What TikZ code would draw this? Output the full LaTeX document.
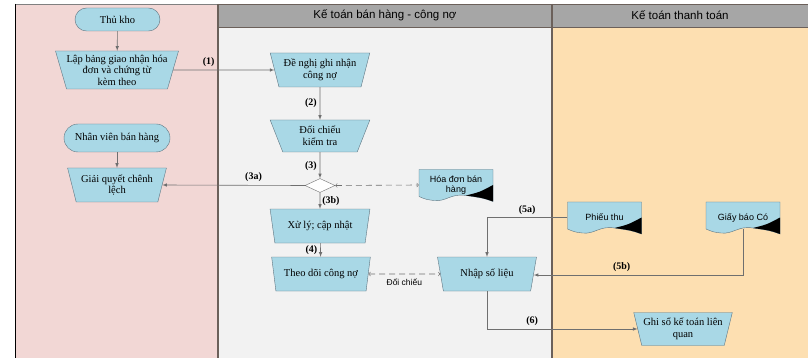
\documentclass[tikz,border=0pt]{standalone}
\usepackage{fontspec}
\setmainfont{Liberation Serif}
\setsansfont{Liberation Sans}
\usetikzlibrary{shapes.geometric}
\definecolor{lanepink}{HTML}{F2D7D5}
\definecolor{lanegray}{HTML}{F2F2F2}
\definecolor{lanepeach}{HTML}{FDDFB1}
\definecolor{headgray}{HTML}{A6A6A6}
\definecolor{boxblue}{HTML}{A9D8E6}
\definecolor{boxline}{HTML}{5E7480}
\definecolor{flowgray}{HTML}{6F6F6F}
\definecolor{laneline}{HTML}{6B605A}
% document symbol: wavy bottom with a dark corner
\newcommand{\docnode}[3]{%
  \begin{scope}[shift={(#2)}]
    \filldraw[draw=boxline, fill=boxblue] (-37,15.5) -- (37,15.5) -- (37,-16.5)
      .. controls (27,-13) .. (10,-10.5)
      .. controls (-5,-8) and (-10,-17) .. (-22,-15.5)
      .. controls (-30,-14.5) .. (-37,-11.5) -- cycle;
    \fill[black] (10,-10.5) .. controls (24,-7) .. (37,0) -- (37,-16.5)
      .. controls (27,-13) .. (10,-10.5) -- cycle;
  \end{scope}
  \node[doc] (#1) at (#2) {#3};}
\begin{document}
\begin{tikzpicture}[x=1pt,y=1pt]
\tikzstyle{every node}+=[inner sep=0pt]
\tikzstyle{proc}=[draw=boxline, fill=boxblue, trapezium, trapezium left angle=70, trapezium right angle=70, shape border rotate=180, trapezium stretches=true, minimum width=99pt, minimum height=34pt, align=center, font=\fontsize{10.5}{11.5}\selectfont]
\tikzstyle{term}=[draw=boxline, fill=boxblue, rectangle, align=center, font=\fontsize{10.5}{11.5}\selectfont]
\tikzstyle{doc}=[minimum width=74pt, minimum height=31pt, align=center, font=\sffamily\fontsize{9}{10}\selectfont]
\tikzstyle{lbl}=[font=\bfseries\fontsize{10}{12}\selectfont]
\tikzstyle{flow}=[draw=flowgray, line width=0.6pt, -latex]
\tikzstyle{cross}=[draw=flowgray, line width=0.6pt, dash pattern=on 6pt off 4pt, to-to]
\useasboundingbox (0,0) rectangle (808,-358);
% lanes
\fill[white] (0,0) rectangle (808,-358);
\fill[lanepink] (15,-4) rectangle (218,-358);
\fill[lanegray] (218,-27) rectangle (552,-358);
\fill[lanepeach] (552,-27) rectangle (808,-358);
\filldraw[fill=headgray, draw=laneline] (218,-4) rectangle (552,-27);
\filldraw[fill=headgray, draw=laneline] (552,-4) rectangle (808,-27);
\draw[gray] (15,-4) -- (218,-4);
\draw[laneline, line width=1.5pt] (218,-4) -- (218,-358);
\draw[laneline, line width=1.5pt] (552,-4) -- (552,-358);
\draw[black, line width=1pt] (15,-4) -- (15,-358);
\node[font=\sffamily\fontsize{11.5}{12}\selectfont] (lane2) at (385,-15.5) {Kế toán bán hàng - công nợ};
\node[font=\sffamily\fontsize{11.5}{12}\selectfont] (lane3) at (680,-15.5) {Kế toán thanh toán};
% steps
\node[term, rounded corners=11.5pt, minimum width=85pt, minimum height=23pt] (thukho) at (117.5,-19.5) {Thủ kho};
\node[proc, minimum width=122pt, minimum height=38pt] (lapbang) at (117,-70) {Lập bảng giao nhận hóa\\đơn và chứng từ\\kèm theo};
\node[term, rounded corners=14pt, minimum width=106pt, minimum height=28pt] (nvbh) at (117,-138) {Nhân viên bán hàng};
\node[proc] (giaiquyet) at (117,-185) {Giải quyết chênh\\lệch};
\node[proc, minimum width=100pt] (denghi) at (320,-70) {Đề nghị ghi nhận\\công nợ};
\node[proc, minimum width=100pt, minimum height=32pt] (doichieu) at (320,-136) {Đối chiếu\\kiểm tra};
\node[diamond, draw=flowgray, fill=white, minimum width=30pt, minimum height=14pt] (kiemtra) at (320,-185.5) {};
\docnode{hoadon}{456,-185}{Hóa đơn bán\\hàng}
\node[proc, minimum width=100pt] (xuly) at (320,-226) {Xử lý; cập nhật};
\node[proc] (theodoi) at (321,-274) {Theo dõi công nợ};
\node[proc] (nhap) at (487,-274) {Nhập số liệu};
\docnode{phieuthu}{604.5,-217.5}{Phiếu thu}
\docnode{giaybao}{743,-217.5}{Giấy báo Có}
\node[proc, minimum height=33pt] (ghiso) at (683,-329) {Ghi sổ kế toán liên\\quan};
% connectors
\draw[flow] (thukho) -- (lapbang);
\draw[flow] (nvbh) -- (giaiquyet);
\draw[flow] (lapbang) -- node[lbl, pos=0.35, above=3pt] {(1)} (denghi);
\draw[flow] (denghi) -- node[lbl, left=3pt] {(2)} (doichieu);
\draw[flow] (doichieu) -- node[lbl, pos=0.55, left=3pt] {(3)} (kiemtra);
\draw[flow] (kiemtra.west) -- node[lbl, pos=0.36, above=3pt] {(3a)} (giaiquyet.east);
\draw[cross] (kiemtra.east) -- (hoadon.west);
\draw[flow] (kiemtra.south) -- node[lbl, right=2pt] {(3b)} (xuly);
\draw[flow] (xuly) -- node[lbl, left=3pt] {(4)} (theodoi);
\draw[cross] (theodoi.east) -- node[below=5pt, font=\sffamily\fontsize{8.5}{10}\selectfont] {Đối chiếu} (nhap.west);
\draw[flow] (phieuthu.west) -| node[lbl, pos=0.25, above=3pt] {(5a)} (nhap.north);
\draw[flow] ([yshift=4pt]giaybao.south) |- node[lbl, pos=0.79, above=3pt] {(5b)} ([yshift=-1pt]nhap.east);
\draw[flow] (nhap.south) |- node[lbl, pos=0.65, above=3pt] {(6)} (ghiso.west);
\end{tikzpicture}
\end{document}
